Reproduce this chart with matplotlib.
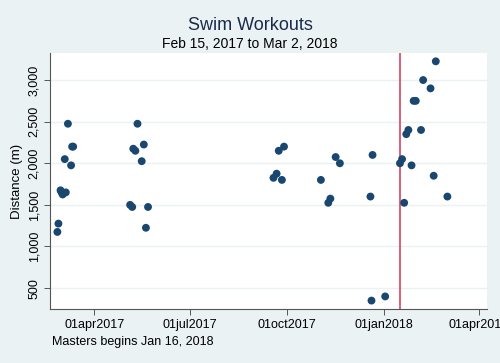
import matplotlib
matplotlib.use("Agg")
import matplotlib.pyplot as plt
import matplotlib.dates as mdates
import datetime as dt

plt.rcParams['font.family'] = ['Liberation Sans', 'DejaVu Sans']

# ---- data ----
dates = [
    "2017-02-25", "2017-02-26", "2017-02-28", "2017-03-01", "2017-03-02", "2017-03-04",
    "2017-03-05", "2017-03-07", "2017-03-10", "2017-03-11", "2017-03-12",
    "2017-05-05", "2017-05-07", "2017-05-08", "2017-05-10", "2017-05-12", "2017-05-16",
    "2017-05-18", "2017-05-20", "2017-05-22",
    "2017-09-18", "2017-09-21", "2017-09-23", "2017-09-26", "2017-09-28",
    "2017-11-02", "2017-11-09", "2017-11-11", "2017-11-16", "2017-11-20",
    "2017-12-19", "2017-12-20", "2017-12-21", "2018-01-02",
    "2018-01-16", "2018-01-18", "2018-01-20", "2018-01-22", "2018-01-24", "2018-01-27",
    "2018-01-29", "2018-01-31", "2018-02-05", "2018-02-07", "2018-02-14", "2018-02-17",
    "2018-02-19", "2018-03-02",
]
distance = [
    1175, 1275, 1675, 1650, 1625, 2050,
    1650, 2475, 1975, 2200, 2200,
    1500, 1475, 2175, 2150, 2475, 2025,
    2225, 1225, 1475,
    1825, 1875, 2150, 1800, 2200,
    1800, 1525, 1575, 2075, 2000,
    1600, 350, 2100, 400,
    2000, 2050, 1525, 2350, 2400, 1975,
    2750, 2750, 2400, 3000, 2900, 1850,
    3225, 1600,
]
masters_date = "2018-01-16"
xtick_dates = ["2017-04-01", "2017-07-01", "2017-10-01", "2018-01-01", "2018-04-01"]
xtick_labels = ["01apr2017", "01jul2017", "01oct2017", "01jan2018", "01apr2018"]
ytick_vals = [500, 1000, 1500, 2000, 2500, 3000]
ytick_labels = ["500", "1,000", "1,500", "2,000", "2,500", "3,000"]
title = "Swim Workouts"
subtitle = "Feb 15, 2017 to Mar 2, 2018"
note = "Masters begins Jan 16, 2018"

def d(s):
    return dt.datetime.strptime(s, "%Y-%m-%d")

bg = "#eaf2f3"
navy = "#1a476f"
line_red = "#d9536f"

fig = plt.figure(figsize=(5.0, 3.63), dpi=100, facecolor=bg)
ax = fig.add_axes([0.10, 0.149, 0.874, 0.705])
ax.set_facecolor("white")

xs = [d(s) for s in dates]
ax.scatter(xs, distance, s=32, color=navy, edgecolors="none", zorder=3)
ax.axvline(d(masters_date), color=line_red, lw=1.3, zorder=2)

ax.set_xlim(d("2017-02-18"), dt.datetime(2018, 4, 8, 14))
ax.set_ylim(250, 3325)

ax.set_xticks([d(s) for s in xtick_dates])
ax.set_xticklabels(xtick_labels, fontsize=9)
ax.set_yticks(ytick_vals)
ax.set_yticklabels(ytick_labels, fontsize=9, rotation=90, va="center")

ax.grid(axis="y", color=bg, lw=1.0, zorder=0)
ax.grid(axis="x", visible=False)

for sp in ["top", "right"]:
    ax.spines[sp].set_visible(False)
for sp in ["left", "bottom"]:
    ax.spines[sp].set_color("#555555")
    ax.spines[sp].set_linewidth(0.8)
ax.tick_params(axis="both", direction="out", length=4, width=0.7, color="#555555", pad=3)

ax.set_ylabel("Distance (m)", fontsize=9.5, labelpad=4)

fig.text(0.5, 0.930, title, ha="center", va="center", fontsize=13, color="#1a2a4a")
fig.text(0.5, 0.880, subtitle, ha="center", va="center", fontsize=10, color="black")
fig.text(0.104, 0.058, note, ha="left", va="center", fontsize=9, color="black")

fig.savefig("out.png", dpi=100, facecolor=bg)
